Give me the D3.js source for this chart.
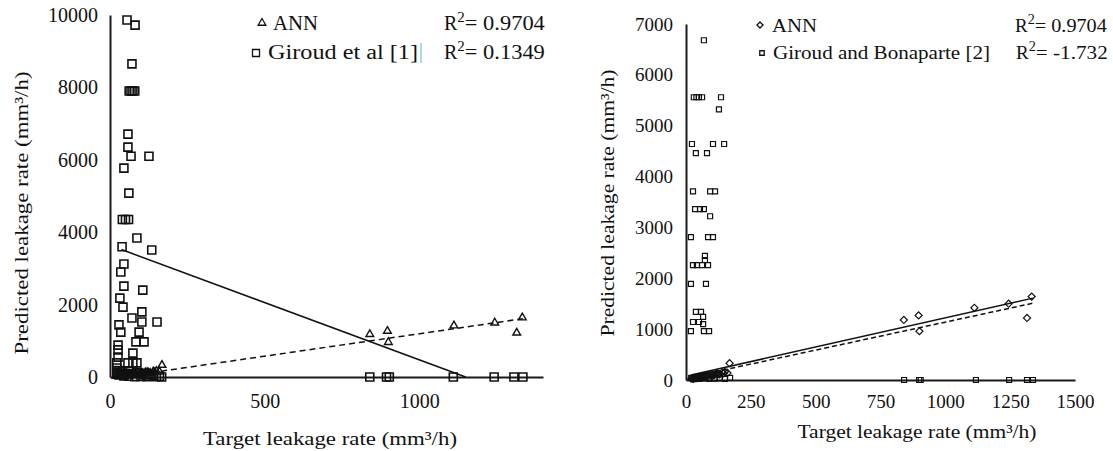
<!DOCTYPE html>
<html>
<head>
<meta charset="utf-8">
<script src="https://cdn.jsdelivr.net/npm/d3@7.9.0/dist/d3.min.js"></script>
<style>
  body { margin: 0; background: #fff; }
  svg { display: block; font-family: 'Liberation Serif', 'Times New Roman', serif; }
  svg text { font-family: 'Liberation Serif', 'Times New Roman', serif; fill: #111; }
</style>
</head>
<body>
<svg id="chart" width="1113" height="451"></svg>
<script>
// ANN predictions (same network in both panels)
const annTarget = [20, 25, 28, 30, 35, 38, 40, 45, 48, 50, 55, 58, 60, 65, 68, 70, 75, 80, 85, 90,
  95, 100, 105, 110, 115, 120, 125, 130, 140, 145, 150, 160, 168, 840, 897, 900, 1112, 1244, 1333, 1315];
const annPredicted = [25, 30, 22, 40, 30, 45, 35, 50, 40, 60, 50, 70, 55, 75, 60, 80, 70, 90, 75, 100,
  85, 110, 95, 100, 120, 130, 115, 110, 150, 130, 160, 140, 330, 1180, 1270, 960, 1420, 1500, 1640, 1220];

// Giroud et al [1]
const giroudTarget = [55, 81, 71, 62, 68, 74, 80, 58, 58, 68, 126, 45, 61, 40, 50, 60, 87, 135, 39, 45,
  35, 45, 106, 32, 42, 103, 71, 103, 152, 29, 35, 94, 84, 110, 26, 26, 74, 26, 58, 74,
  87, 22, 22, 22, 25, 30, 35, 40, 50, 60, 70, 90, 110, 130, 140, 160,
  30, 45, 60, 80, 100, 120, 150, 167, 840, 894, 903, 1110, 1242, 1306, 1335];
const giroudPredicted = [9860, 9720, 8650, 7900, 7900, 7900, 7900, 6710, 6350, 6100, 6100, 5770, 5080, 4350, 4350, 4350, 3840, 3510, 3600, 3120,
  2900, 2510, 2400, 2180, 1930, 1800, 1630, 1520, 1520, 1440, 1240, 1240, 970, 970, 880, 750, 660, 550, 390, 390,
  390, 390, 250, 120, 100, 180, 80, 150, 100, 160, 90, 120, 60, 80, 40, 20,
  60, 30, 20, 10, 15, 10, 5, 0, 0, 0, 0, 0, 0, 0, 0];

// Giroud and Bonaparte [2]
const bonaparteTarget = [69, 30, 40, 50, 62, 135, 127, 23, 104, 147, 38, 81, 27, 93, 112, 35, 54, 69, 93, 19,
  85, 104, 27, 42, 62, 85, 73, 73, 19, 77, 38, 58, 66, 27, 50, 66, 19, 69, 89,
  20, 35, 50, 70, 90, 110, 130, 150, 170, 841, 899, 905, 1118, 1246, 1315, 1338];
const bonapartePredicted = [6680, 5560, 5560, 5560, 5560, 5560, 5320, 4640, 4640, 4640, 4460, 4460, 3710, 3710, 3710, 3360, 3360, 3360, 3220, 2810,
  2810, 2810, 2260, 2260, 2260, 2260, 2360, 2440, 1890, 1890, 1340, 1340, 1240, 1140, 1140, 1100, 960, 960, 960,
  40, 30, 20, 30, 20, 25, 30, 20, 40, 0, 0, 0, 0, 0, 0, 0];

// trend lines: [x, y] end points
const leftGiroudTrend = [[37, 3520], [1150, 0]];
const leftAnnTrend = [[165, 160], [1335, 1610]];
const rightSolidTrend = [[20, 98], [1338, 1610]];
const rightDashedTrend = [[20, 60], [1338, 1510]];

// tick labels
const leftXTicks = [0, 500, 1000];
const leftYTicks = [0, 2000, 4000, 6000, 8000, 10000];
const rightXTicks = [0, 250, 500, 750, 1000, 1250, 1500];
const rightYTicks = [0, 1000, 2000, 3000, 4000, 5000, 6000, 7000];

const svg = d3.select('#chart');
const serif = "'Liberation Serif', 'Times New Roman', serif";

function pairs(xs, ys) {
  return xs.map((x, i) => [x, ys[i]]);
}

function drawPanel(cfg) {
  const x = d3.scaleLinear().domain(cfg.xDomain).range(cfg.xRange);
  const y = d3.scaleLinear().domain(cfg.yDomain).range(cfg.yRange);
  const g = svg.append('g').attr('font-family', serif);

  // axes, no tick marks
  const xAxis = g.append('g')
    .attr('transform', `translate(0, ${cfg.yRange[0]})`)
    .call(d3.axisBottom(x).tickValues(cfg.xTicks).tickFormat(d3.format('d')).tickSize(0).tickPadding(cfg.xPad));
  const yAxis = g.append('g')
    .attr('transform', `translate(${cfg.xRange[0]}, 0)`)
    .call(d3.axisLeft(y).tickValues(cfg.yTicks).tickFormat(d3.format('d')).tickSize(0).tickPadding(cfg.yPad));
  [xAxis, yAxis].forEach((a) => {
    a.attr('font-family', serif).attr('font-size', cfg.tickFont);
    a.select('.domain').attr('stroke', '#1a1a1a').attr('stroke-width', 2);
    a.selectAll('text').attr('fill', '#111');
  });

  // trend lines
  const line = d3.line().x((d) => x(d[0])).y((d) => y(d[1]));
  cfg.trends.forEach((t) => {
    g.append('path')
      .attr('d', line(t.pts))
      .attr('fill', 'none')
      .attr('stroke', '#111')
      .attr('stroke-width', 1.5)
      .attr('stroke-dasharray', t.dash || null);
  });

  // markers
  cfg.series.forEach((s) => {
    const sym = d3.symbol().type(s.type).size(s.size);
    g.append('g')
      .selectAll('path')
      .data(pairs(s.x, s.y))
      .join('path')
      .attr('d', sym)
      .attr('transform', (d) => `translate(${x(d[0])},${y(d[1])})${s.rotate ? ' rotate(45)' : ''}`)
      .attr('fill', 'none')
      .attr('stroke', '#111')
      .attr('stroke-width', s.stroke);
  });

  // axis titles
  g.append('text')
    .attr('x', cfg.xTitle[0]).attr('y', cfg.xTitle[1])
    .attr('text-anchor', 'middle')
    .attr('font-size', cfg.titleFont)
    .attr('textLength', cfg.xTitle[2]).attr('lengthAdjust', 'spacingAndGlyphs')
    .text('Target leakage rate (mm³/h)');
  g.append('text')
    .attr('transform', `translate(${cfg.yTitle[0]},${cfg.yTitle[1]}) rotate(-90)`)
    .attr('text-anchor', 'middle')
    .attr('font-size', cfg.titleFont)
    .attr('textLength', cfg.yTitle[2]).attr('lengthAdjust', 'spacingAndGlyphs')
    .text('Predicted leakage rate (mm³/h)');

  // legend
  cfg.legend.forEach((l) => {
    const s = cfg.series[l.series];
    g.append('path')
      .attr('d', d3.symbol().type(s.type).size(l.size)())
      .attr('transform', `translate(${l.mx},${l.my})${s.rotate ? ' rotate(45)' : ''}`)
      .attr('fill', 'none')
      .attr('stroke', '#111')
      .attr('stroke-width', 1.3);
    g.append('text')
      .attr('x', l.tx).attr('y', l.ty)
      .attr('font-size', cfg.legendFont)
      .attr('textLength', l.tw).attr('lengthAdjust', 'spacingAndGlyphs')
      .text(l.label);
    const r = g.append('text')
      .attr('x', l.rx).attr('y', l.ty)
      .attr('font-size', cfg.legendFont);
    r.append('tspan').text('R');
    r.append('tspan').attr('dy', -8).attr('font-size', cfg.legendFont * 0.75).text('2');
    r.append('tspan').attr('dy', 8).attr('textLength', l.rw).attr('lengthAdjust', 'spacingAndGlyphs')
      .text('= ' + l.r2);
  });
  return g;
}

const left = drawPanel({
  xDomain: [0, 1400], xRange: [110, 543],
  yDomain: [0, 10000], yRange: [377, 15],
  xTicks: leftXTicks, yTicks: leftYTicks,
  xPad: 17, yPad: 12, tickFont: 20, titleFont: 19, legendFont: 20,
  xTitle: [330, 445, 254], yTitle: [28, 213, 283],
  trends: [{ pts: leftGiroudTrend }, { pts: leftAnnTrend, dash: '6,4' }],
  series: [
    { x: giroudTarget, y: giroudPredicted, type: d3.symbolSquare, size: 64, stroke: 1.6 },
    { x: annTarget, y: annPredicted, type: d3.symbolTriangle, size: 26, stroke: 1.4 }
  ],
  legend: [
    { series: 1, size: 26, mx: 262, my: 23, tx: 273, ty: 30, tw: 45, label: 'ANN', rx: 444, rw: 80, r2: '0.9704' },
    { series: 0, size: 49, mx: 256, my: 53, tx: 268, ty: 59, tw: 150, label: 'Giroud et al [1]', rx: 444, rw: 80, r2: '0.1349' }
  ]
});

// text cursor left over after the legend entry
left.append('line')
  .attr('x1', 421).attr('x2', 421).attr('y1', 43).attr('y2', 63)
  .attr('stroke', '#6cc4e0').attr('stroke-width', 1.2);

drawPanel({
  xDomain: [0, 1500], xRange: [686, 1075],
  yDomain: [0, 7000], yRange: [380, 24],
  xTicks: rightXTicks, yTicks: rightYTicks,
  xPad: 15, yPad: 13, tickFont: 19, titleFont: 19, legendFont: 19,
  xTitle: [917, 438, 239], yTitle: [614, 203, 267],
  trends: [{ pts: rightSolidTrend }, { pts: rightDashedTrend, dash: '5,3' }],
  series: [
    { x: bonaparteTarget, y: bonapartePredicted, type: d3.symbolSquare, size: 25, stroke: 1.2 },
    { x: annTarget, y: annPredicted, type: d3.symbolSquare, size: 25, stroke: 1.2, rotate: true }
  ],
  legend: [
    { series: 1, size: 18, mx: 760, my: 25, tx: 772, ty: 32, tw: 45, label: 'ANN', rx: 1015, rw: 72, r2: '0.9704' },
    { series: 0, size: 20, mx: 762, my: 53, tx: 773, ty: 59, tw: 217, label: 'Giroud and Bonaparte [2]', rx: 1016, rw: 72, r2: '-1.732' }
  ]
});
</script>
</body>
</html>
